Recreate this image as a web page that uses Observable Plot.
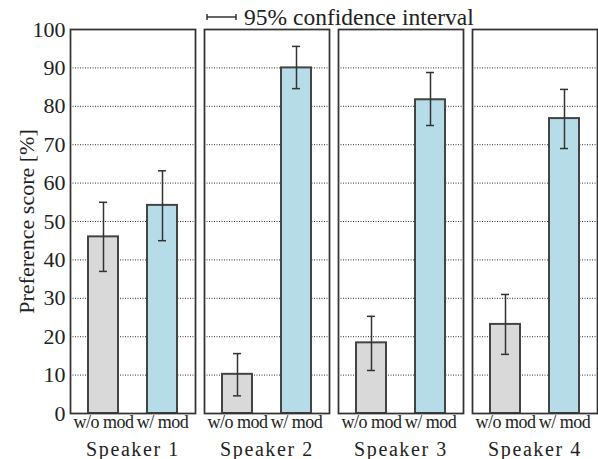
<!DOCTYPE html>
<html>
<head>
<meta charset="utf-8">
<script src="https://cdn.jsdelivr.net/npm/d3@7"></script>
<script src="https://cdn.jsdelivr.net/npm/@observablehq/plot@0.6"></script>
<style>
  body { margin: 0; background: white; }
  #wrap { position: relative; width: 598px; height: 459px; }
  #legend { position: absolute; left: 0; top: 0; }
  g[aria-label="fx-axis tick label"] text { letter-spacing: 1.6px; }
  g[aria-label="x-axis tick label"] text { letter-spacing: -0.5px; }
</style>
</head>
<body>
<div id="wrap">
  <svg id="legend" width="598" height="29" style="font-family:'Liberation Serif', serif">
    <line x1="207" x2="236" y1="17" y2="17" stroke="#333" stroke-width="1.5"/>
    <line x1="207" x2="207" y1="14" y2="20" stroke="#333" stroke-width="1.5"/>
    <line x1="236" x2="236" y1="14" y2="20" stroke="#333" stroke-width="1.5"/>
    <text x="244" y="25" font-size="23.5" fill="#222">95% confidence interval</text>
  </svg>
</div>
<script>
const speakers = ["Speaker 1", "Speaker 2", "Speaker 3", "Speaker 4"];
const conditions = ["w/o mod", "w/ mod"];
const scores = [[46, 54.2], [10.2, 90], [18.4, 81.7], [23.2, 76.8]];
const ciLow = [[37, 45], [4.6, 84.6], [11.2, 75], [15.4, 69]];
const ciHigh = [[55, 63.2], [15.6, 95.6], [25.3, 88.8], [31, 84.4]];
const yTicks = [0, 10, 20, 30, 40, 50, 60, 70, 80, 90, 100];
const gridTicks = [10, 20, 30, 40, 50, 60, 70, 80, 90];

const data = [];
speakers.forEach((s, i) => conditions.forEach((c, j) => {
  data.push({speaker: s, cond: c, score: scores[i][j], lo: ciLow[i][j], hi: ciHigh[i][j]});
}));

const serif = "'Liberation Serif', 'Times New Roman', serif";
const chart = Plot.plot({
  width: 598, height: 459,
  marginTop: 29, marginBottom: 46, marginLeft: 69, marginRight: 1,
  style: {fontFamily: serif, fontSize: "16px", color: "#222", background: "white", overflow: "visible"},
  fx: {domain: speakers, paddingInner: 0.07, paddingOuter: 0, label: null},
  x: {domain: conditions, paddingInner: 0.5, paddingOuter: 0.3, label: null},
  y: {domain: [0, 100], label: "Preference score [%]"},
  color: {domain: conditions, range: ["#d9d9d9", "#b6dde7"]},
  marks: [
    Plot.gridY(gridTicks, {stroke: "#333", strokeOpacity: 1, strokeWidth: 1, strokeDasharray: "1,1.5"}),
    Plot.barY(data, {fx: "speaker", x: "cond", y: "score", fill: "cond", stroke: "#444", strokeWidth: 2}),
    Plot.ruleX(data, {fx: "speaker", x: "cond", y1: "lo", y2: "hi", stroke: "#333", strokeWidth: 1.5}),
    Plot.tickY(data, {fx: "speaker", x: "cond", y: "lo", stroke: "#333", strokeWidth: 1.5, insetLeft: 11, insetRight: 11}),
    Plot.tickY(data, {fx: "speaker", x: "cond", y: "hi", stroke: "#333", strokeWidth: 1.5, insetLeft: 11, insetRight: 11}),
    Plot.frame({stroke: "#333", strokeWidth: 1.75}),
    Plot.axisY({ticks: yTicks, tickSize: 0, tickPadding: 5, fontSize: 22, label: "Preference score [%]", labelAnchor: "center", labelArrow: "none", labelOffset: 52}),
    Plot.axisX({tickSize: 0, tickPadding: 2, fontSize: 18, label: null}),
    Plot.axisFx({anchor: "bottom", tickSize: 0, tickPadding: 28, fontSize: 20, label: null})
  ]
});
document.getElementById("wrap").prepend(chart);
</script>
</body>
</html>
